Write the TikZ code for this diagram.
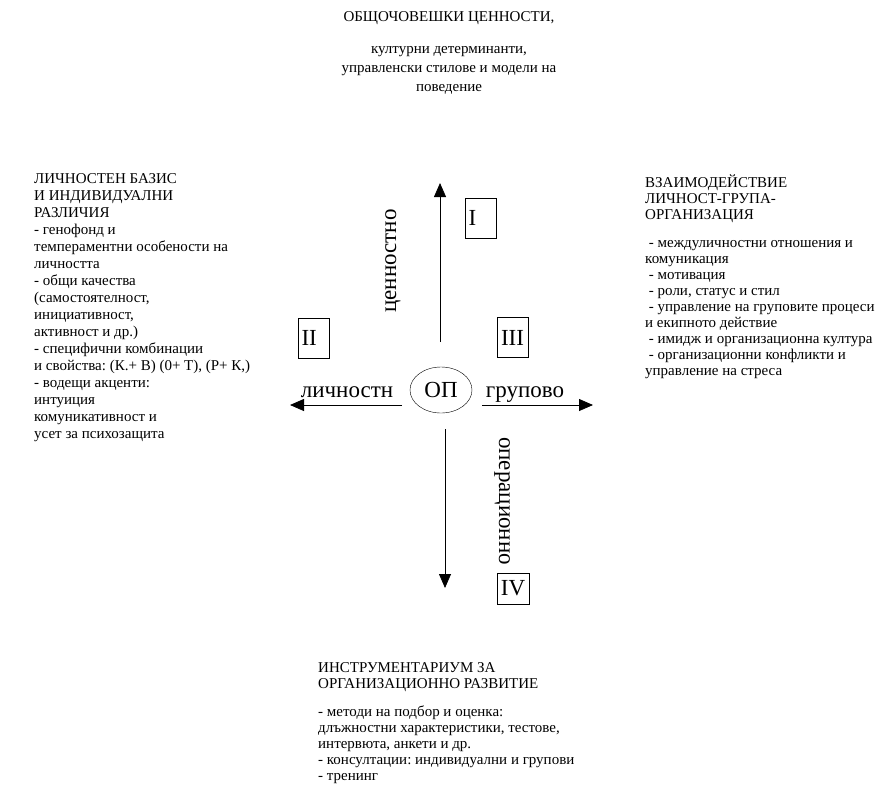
\documentclass[tikz,border=0pt]{standalone}
\usepackage{fontspec}
\setmainfont{Liberation Serif}
\usetikzlibrary{arrows.meta,shapes.geometric}
\frenchspacing

\begin{document}
\begin{tikzpicture}
[x=1pt,y=-1pt]
\tikzset{txt/.style={align=left,anchor=north west,inner sep=0pt,font=\fontsize{15}{16}\selectfont}}
\tikzset{big/.style={font=\fontsize{23}{27}\selectfont}}
\tikzset{box/.style={draw,big,inner sep=0pt}}
\tikzset{num/.style={box,minimum height=40pt,text width=24pt,inner xsep=3.5pt}}
\tikzset{ax/.style={-{Triangle[length=14pt,width=12pt]},line width=.8pt}}
\useasboundingbox (0,0) rectangle (893,790);

% texts round the axes
\node [txt,align=center,anchor=north,font=\fontsize{15}{19}\selectfont] (top) at (449,11.5)
  {ОБЩОЧОВЕШКИ ЦЕННОСТИ,\\[13pt] културни детерминанти,\\ управленски стилове и модели на\\ поведение};
\node [txt,font=\fontsize{15}{17}\selectfont] (left) at (34,173.5) {ЛИЧНОСТЕН БАЗИС\\ И ИНДИВИДУАЛНИ\\ РАЗЛИЧИЯ\\ - генофонд и\\
  темпераментни особености на\\ личността\\ - общи качества\\ (самостоятелност,\\
  инициативност,\\ активност и др.)\\ - специфични комбинации\\
  и свойства: (К.+ В) (0+ Т), (Р+ К,)\\ - водещи акценти:\\ интуиция\\
  комуникативност и\\ усет за психозащита};
\node [txt] (right) at (645,174.5) {ВЗАИМОДЕЙСТВИЕ\\ ЛИЧНОСТ-ГРУПА-\\ ОРГАНИЗАЦИЯ\\[12pt]
  ~- междуличностни отношения и\\ комуникация\\ ~- мотивация\\ ~- роли, статус и стил\\
  ~- управление на груповите процеси\\ и екипното действие\\
  ~- имидж и организационна култура\\ ~- организационни конфликти и\\ управление на стреса};
\node [txt] (bottom) at (318,662.5) {ИНСТРУМЕНТАРИУМ ЗА\\ ОРГАНИЗАЦИОННО РАЗВИТИЕ\\[12pt]
  - методи на подбор и оценка:\\ длъжностни характеристики, тестове,\\
  интервюта, анкети и др.\\ - консултации: индивидуални и групови\\ - тренинг};

% centre and axis labels
\node [draw,ellipse,big,minimum width=62pt,minimum height=46pt,inner sep=0pt] (op) at (441,390) {ОП};
\node [big,anchor=base] (lich) at (347,397) {личностн};
\node [big,anchor=base] (grup) at (525,397) {групово};
\node [big,rotate=90,anchor=base] (cen) at (396,261) {ценностно};
\node [big,rotate=-90,anchor=base] (oper) at (499,501) {операционно};

\node [num] (n1) at (480.5,218) {I};
\node [num] (n2) at (313.5,338) {II};
\node [num] (n3) at (513,337.5) {III};
\node [box,minimum width=32pt,minimum height=31pt] (n4) at (513,588.5) {IV};

\coordinate (u0) at (440,342);
\coordinate (u1) at (440,183);
\coordinate (l0) at (402,405);
\coordinate (l1) at (290,405);
\coordinate (r0) at (482,405);
\coordinate (r1) at (593,405);
\coordinate (d0) at (445,429);
\coordinate (d1) at (445,588);

\foreach \from/\to in {u0/u1,l0/l1,r0/r1,d0/d1}
	\draw [ax] (\from) -- (\to);
\end{tikzpicture}
\end{document}
